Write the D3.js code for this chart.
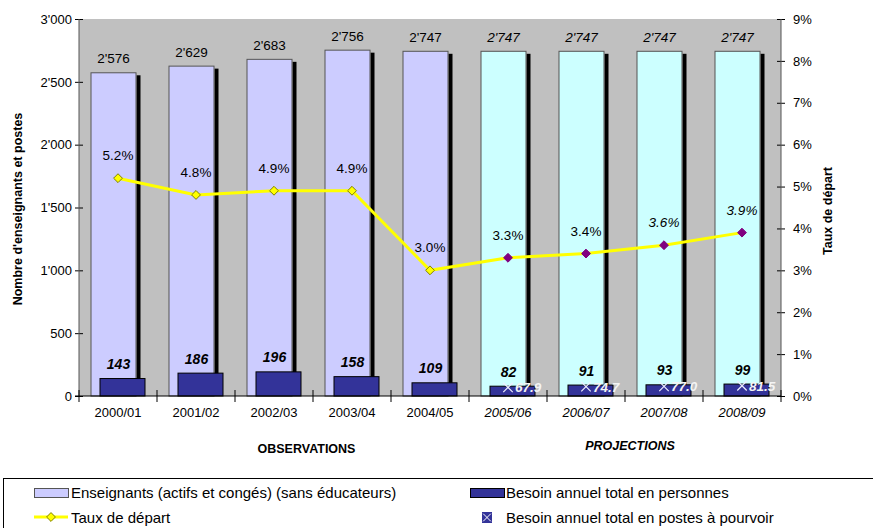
<!DOCTYPE html>
<html><head><meta charset="utf-8">
<script src="https://cdn.jsdelivr.net/npm/d3@7"></script>
<style>body{margin:0;background:#fff}svg{display:block;font-family:"Liberation Sans",Arial,sans-serif}</style>
</head><body><svg id="c" width="873" height="528"></svg>
<script>
const categories = ["2000/01","2001/02","2002/03","2003/04","2004/05","2005/06","2006/07","2007/08","2008/09"];
const isProjection = [false,false,false,false,false,true,true,true,true];
const enseignants = [2576,2629,2683,2756,2747,2747,2747,2747,2747];
const enseignantsLabels = ["2'576","2'629","2'683","2'756","2'747","2'747","2'747","2'747","2'747"];
const besoinPersonnes = [143,186,196,158,109,82,91,93,99];
const besoinPostes = [null,null,null,null,null,67.9,74.7,77.0,81.5];
const tauxDepart = [5.2,4.8,4.9,4.9,3.0,3.3,3.4,3.6,3.9];
const tauxItalic = [false,false,false,false,false,false,false,true,true];
const leftTicks = [0,500,1000,1500,2000,2500,3000];
const leftTickLabels = ["0","500","1'000","1'500","2'000","2'500","3'000"];
const rightTicks = [0,1,2,3,4,5,6,7,8,9];

const svg = d3.select("#c");
const L = 79, R = 781, T = 19, B = 396;
const x = d3.scaleBand().domain(categories).range([L, R]).paddingInner(0).paddingOuter(0);
const yL = d3.scaleLinear().domain([0,3000]).range([B, T]);
const yR = d3.scaleLinear().domain([0,9]).range([B, T]);
const bw = 46, off = 9;
const bx = d => x(d) + x.bandwidth()/2 - (bw + off)/2;

svg.append("rect").attr("x", L).attr("y", T).attr("width", R-L).attr("height", B-T).attr("fill", "#C0C0C0");

// shadows
svg.selectAll(".sh").data(categories).join("rect")
  .attr("x", d => bx(d) + bw).attr("y", (d,i) => yL(enseignants[i]) + 3)
  .attr("width", 4).attr("height", (d,i) => B - yL(enseignants[i]) - 3).attr("fill", "#000");
// teacher bars
svg.selectAll(".ens").data(categories).join("rect")
  .attr("x", d => bx(d)+0.5).attr("y", (d,i) => yL(enseignants[i])+0.5)
  .attr("width", bw-1).attr("height", (d,i) => B - yL(enseignants[i])-0.5)
  .attr("fill", (d,i) => isProjection[i] ? "#CCFFFF" : "#CCCCFF")
  .attr("stroke", "#555").attr("stroke-width", 1);
// besoin bars
svg.selectAll(".bes").data(categories).join("rect")
  .attr("x", d => bx(d)+off+0.5).attr("y", (d,i) => yL(besoinPersonnes[i])+0.5)
  .attr("width", bw-1).attr("height", (d,i) => B - yL(besoinPersonnes[i])-0.5)
  .attr("fill", "#333399").attr("stroke", "#000").attr("stroke-width", 1);

// axes
const gl = svg.append("g").attr("transform", `translate(${L},0)`)
  .call(d3.axisLeft(yL).tickValues(leftTicks).tickFormat((d,i)=>leftTickLabels[i]).tickSize(0).tickPadding(7));
gl.select(".domain").remove();
gl.selectAll("text").attr("font-size", 13).attr("fill","#000").attr("font-family","Liberation Sans, Arial, sans-serif");
gl.selectAll(".tick").append("line").attr("x1",-4).attr("x2",4).attr("stroke","#000");
svg.append("line").attr("x1",L).attr("x2",L).attr("y1",T).attr("y2",B).attr("stroke","#555");

const gr = svg.append("g").attr("transform", `translate(${R},0)`)
  .call(d3.axisRight(yR).tickValues(rightTicks).tickFormat(d=>d+"%").tickSize(0).tickPadding(12));
gr.select(".domain").remove();
gr.selectAll("text").attr("font-size", 13).attr("fill","#000").attr("font-family","Liberation Sans, Arial, sans-serif");
gr.selectAll(".tick").append("line").attr("x1",-4).attr("x2",4).attr("stroke","#000");
svg.append("line").attr("x1",R).attr("x2",R).attr("y1",T).attr("y2",B).attr("stroke","#555");

const gx = svg.append("g").attr("transform", `translate(0,${B})`)
  .call(d3.axisBottom(x).tickSize(0).tickPadding(12));
gx.select(".domain").remove();
gx.selectAll("text").attr("font-size", 13).attr("fill","#000").attr("font-family","Liberation Sans, Arial, sans-serif")
  .attr("font-style", d => isProjection[categories.indexOf(d)] ? "italic" : "normal");
svg.append("line").attr("x1",L-4).attr("x2",R).attr("y1",B).attr("y2",B).attr("stroke","#000");
svg.selectAll(".xt").data(d3.range(categories.length+1)).join("line")
  .attr("x1", i => L + i*x.bandwidth()).attr("x2", i => L + i*x.bandwidth())
  .attr("y1", B-6).attr("y2", B+6).attr("stroke","#000");

// value labels
svg.selectAll(".vl").data(categories).join("text")
  .attr("x", d => bx(d) + bw/2).attr("y", (d,i) => yL(enseignants[i]) - 9)
  .attr("text-anchor","middle").attr("font-size",13.5)
  .attr("font-style",(d,i)=>isProjection[i]?"italic":"normal")
  .text((d,i)=>enseignantsLabels[i]);
svg.selectAll(".bl").data(categories).join("text")
  .attr("x", d => bx(d) + off + bw/2 - 4).attr("y", (d,i) => yL(besoinPersonnes[i]) - 9)
  .attr("text-anchor","middle").attr("font-size",14).attr("font-weight","bold").attr("font-style","italic")
  .text((d,i)=>besoinPersonnes[i]);

// line
const cx = d => x(d) + x.bandwidth()/2;
svg.append("path").datum(categories)
  .attr("d", d3.line().x(d=>cx(d)).y((d,i)=>yR(tauxDepart[i])))
  .attr("fill","none").attr("stroke","#FFFF00").attr("stroke-width",3);
const diamond = d3.symbol().type(d3.symbolDiamond2).size(50);
svg.selectAll(".mk").data(categories).join("path")
  .attr("d", diamond)
  .attr("transform",(d,i)=>`translate(${cx(d)},${yR(tauxDepart[i])})`)
  .attr("fill",(d,i)=>isProjection[i]?"#800080":"#FFFF00")
  .attr("stroke",(d,i)=>isProjection[i]?"#800080":"#808000").attr("stroke-width",1);
svg.selectAll(".pl").data(categories).join("text")
  .attr("x", d => cx(d)).attr("y",(d,i)=>yR(tauxDepart[i]) - 18)
  .attr("text-anchor","middle").attr("font-size",13.5)
  .attr("font-style",(d,i)=>tauxItalic[i]?"italic":"normal")
  .text((d,i)=>tauxDepart[i].toFixed(1)+"%");

// X markers for postes
const postes = categories.map((d,i)=>({c:d,v:besoinPostes[i]})).filter(o=>o.v!==null);
svg.selectAll(".xm").data(postes).join("path")
  .attr("d", d3.symbol().type(d3.symbolX).size(60))
  .attr("transform", o=>`translate(${cx(o.c)},${yL(o.v)})`)
  .attr("stroke","#EEEEFF").attr("stroke-width",1.2).attr("fill","none");
svg.selectAll(".xl").data(postes).join("text")
  .attr("x", o=>cx(o.c)+7).attr("y", o=>yL(o.v)+5)
  .attr("font-size",13.5).attr("font-weight","bold").attr("font-style","italic").attr("fill","#F4F4F4")
  .text(o=>o.v.toFixed(1));

// axis titles
svg.append("text").attr("transform","translate(22,209) rotate(-90)").attr("text-anchor","middle")
  .attr("font-size",12.5).attr("font-weight","bold").text("Nombre d'enseignants et postes");
svg.append("text").attr("transform","translate(832,211) rotate(-90)").attr("text-anchor","middle")
  .attr("font-size",12.5).attr("font-weight","bold").text("Taux de départ");
svg.append("text").attr("x",306.5).attr("y",453).attr("text-anchor","middle").attr("font-size",12.5).attr("font-weight","bold").text("OBSERVATIONS");
svg.append("text").attr("x",630).attr("y",450).attr("text-anchor","middle").attr("font-size",12.5).attr("font-weight","bold").attr("font-style","italic").text("PROJECTIONS");

// legend
const lg = svg.append("g");
lg.append("rect").attr("x",3.5).attr("y",478.5).attr("width",875).attr("height",60).attr("fill","#fff").attr("stroke","#000");
lg.append("rect").attr("x",34.5).attr("y",488.5).attr("width",34).attr("height",9).attr("fill","#CCCCFF").attr("stroke","#555");
lg.append("text").attr("x",71).attr("y",498).attr("font-size",15).text("Enseignants (actifs et congés) (sans éducateurs)");
lg.append("line").attr("x1",34).attr("x2",68).attr("y1",517).attr("y2",517).attr("stroke","#FFFF00").attr("stroke-width",3);
lg.append("path").attr("d",diamond).attr("transform","translate(51,517)").attr("fill","#FFFF00").attr("stroke","#808000");
lg.append("text").attr("x",71).attr("y",523).attr("font-size",15).text("Taux de départ");
lg.append("rect").attr("x",470.5).attr("y",488.5).attr("width",34).attr("height",9).attr("fill","#333399").attr("stroke","#000");
lg.append("text").attr("x",506).attr("y",498).attr("font-size",15).text("Besoin annuel total en personnes");
lg.append("rect").attr("x",482).attr("y",512).attr("width",10).attr("height",11).attr("fill","#333399");
lg.append("path").attr("d",d3.symbol().type(d3.symbolX).size(40)).attr("transform","translate(487,517.5)").attr("stroke","#fff").attr("stroke-width",1);
lg.append("text").attr("x",506).attr("y",523).attr("font-size",15).text("Besoin annuel total en postes à pourvoir");
</script></body></html>
